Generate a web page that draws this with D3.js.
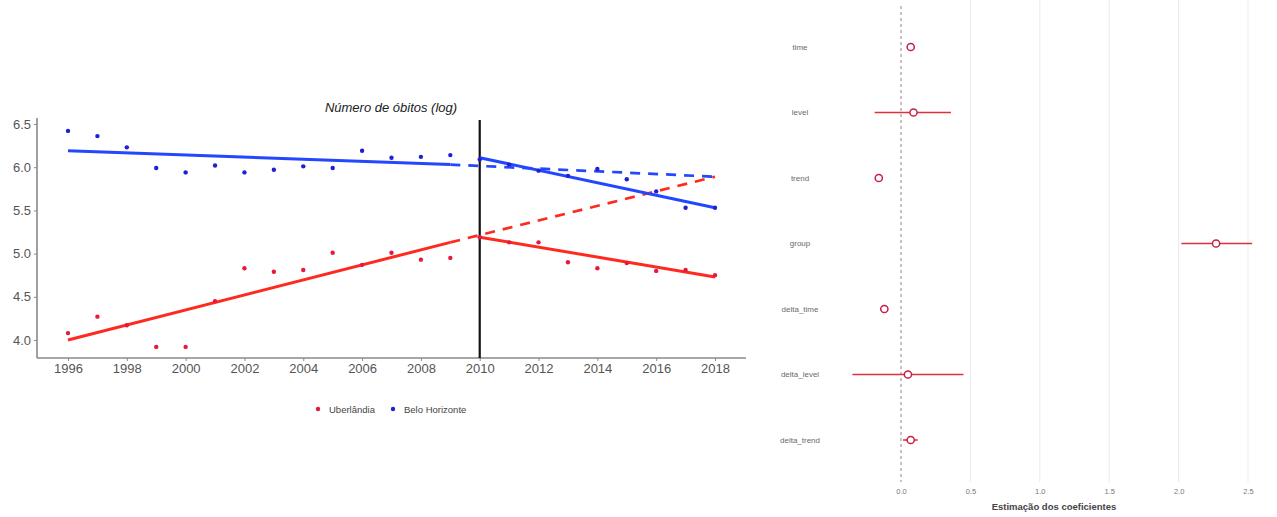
<!DOCTYPE html>
<html>
<head>
<meta charset="utf-8">
<script src="https://cdn.jsdelivr.net/npm/d3@7"></script>
<style>
  html, body { margin: 0; padding: 0; background: #fff; }
  svg { display: block; font-family: "Liberation Sans", Arial, sans-serif; }
</style>
</head>
<body>
<svg id="chart" width="1277" height="517"></svg>
<script>
// ---- Series: log number of deaths per year ----
const years = d3.range(1996, 2019);
const uberlandia = [4.08, 4.27, 4.17, 3.92, 3.92, 4.45, 4.83, 4.79, 4.81, 5.01, 4.87, 5.01, 4.93, 4.95,
                    5.19, 5.13, 5.13, 4.90, 4.83, 4.89, 4.80, 4.81, 4.75];
const beloHorizonte = [6.42, 6.36, 6.23, 5.99, 5.94, 6.02, 5.94, 5.97, 6.01, 5.99, 6.19, 6.11, 6.12, 6.14,
                       6.09, 6.03, 5.96, 5.90, 5.98, 5.86, 5.72, 5.53, 5.53];

// Fitted segments: [startYear, startValue, endYear, endValue]
const fitUberPre = [1996, 4.00, 2009, 5.13];
const fitUberCf = [2009, 5.13, 2018, 5.89];
const fitUberPost = [2010, 5.19, 2018, 4.73];
const fitBeloPre = [1996, 6.19, 2009, 6.03];
const fitBeloCf = [2009, 6.03, 2018, 5.89];
const fitBeloPost = [2010, 6.11, 2018, 5.53];

const interventionYear = 2010;
const yTicks = [4.0, 4.5, 5.0, 5.5, 6.0, 6.5];
const xTicks = d3.range(1996, 2019, 2);
const legendLabels = ["Uberlândia", "Belo Horizonte"];

// ---- Coefficient estimates ----
const coefNames = ["time", "level", "trend", "group", "delta_time", "delta_level", "delta_trend"];
const coefEst = [0.07, 0.09, -0.16, 2.27, -0.12, 0.05, 0.07];
const coefLow = [0.06, -0.19, -0.17, 2.02, -0.13, -0.35, 0.015];
const coefHigh = [0.08, 0.36, -0.15, 2.53, -0.11, 0.45, 0.12];
const coefTicks = [0.0, 0.5, 1.0, 1.5, 2.0, 2.5];

const RED = "#ff2a1f", BLUE = "#2346ff";
const RED_PT = "#e8173d", BLUE_PT = "#1f1fd6";
const svg = d3.select("#chart");

// ================= Left panel =================
const x = d3.scaleLinear().domain([1996, 2018]).range([68, 715]);
const y = d3.scaleLinear().domain([4.0, 6.5]).range([340, 124]);
const L = svg.append("g");

// axes lines
L.append("line").attr("x1", 37).attr("x2", 37).attr("y1", 118).attr("y2", 358)
  .attr("stroke", "#8a8a8a").attr("stroke-width", 1.6);
L.append("line").attr("x1", 37).attr("x2", 746).attr("y1", 358).attr("y2", 358)
  .attr("stroke", "#8a8a8a").attr("stroke-width", 1.6);

const yAxis = d3.axisLeft(y).tickValues(yTicks).tickFormat(d3.format(".1f")).tickSize(3).tickPadding(3);
const gy = L.append("g").attr("transform", "translate(37,0)").call(yAxis);
gy.select(".domain").remove();
gy.selectAll("line").attr("stroke", "#8a8a8a");
gy.selectAll("text").attr("fill", "#555").style("font-size", "13px");

const xAxis = d3.axisBottom(x).tickValues(xTicks).tickFormat(d3.format("d")).tickSize(3).tickPadding(3);
const gx = L.append("g").attr("transform", "translate(0,358)").call(xAxis);
gx.select(".domain").remove();
gx.selectAll("line").attr("stroke", "#8a8a8a");
gx.selectAll("text").attr("fill", "#555").style("font-size", "13px");

// title
L.append("text").attr("x", 391).attr("y", 112).attr("text-anchor", "middle")
  .attr("fill", "#222").style("font-size", "13px").style("font-style", "italic")
  .text("Número de óbitos (log)");

// intervention line
L.append("line").attr("x1", x(interventionYear)).attr("x2", x(interventionYear))
  .attr("y1", 120).attr("y2", 358).attr("stroke", "#111").attr("stroke-width", 2.2);

function seg(s, color, dashed) {
  L.append("line")
    .attr("x1", x(s[0])).attr("y1", y(s[1])).attr("x2", x(s[2])).attr("y2", y(s[3]))
    .attr("stroke", color).attr("stroke-width", dashed ? 2.7 : 3)
    .attr("stroke-dasharray", dashed ? "10,8" : null);
}
seg(fitUberPre, RED, false);
seg(fitUberCf, RED, true);
seg(fitUberPost, RED, false);
seg(fitBeloPre, BLUE, false);
seg(fitBeloCf, BLUE, true);
seg(fitBeloPost, BLUE, false);

function pts(vals, color) {
  L.append("g").selectAll("circle").data(vals).join("circle")
    .attr("cx", (d, i) => x(years[i])).attr("cy", d => y(d)).attr("r", 2.2).attr("fill", color);
}
pts(uberlandia, RED_PT);
pts(beloHorizonte, BLUE_PT);

// legend
const lg = L.append("g").attr("transform", "translate(318,409)");
[[0, RED_PT, legendLabels[0]], [75, BLUE_PT, legendLabels[1]]].forEach(([dx, c, t]) => {
  lg.append("circle").attr("cx", dx).attr("cy", 0).attr("r", 2.2).attr("fill", c);
  lg.append("text").attr("x", dx + 11).attr("y", 3.5).attr("fill", "#444")
    .style("font-size", "9.5px").text(t);
});

// ================= Right panel =================
const cx = d3.scaleLinear().domain([0, 2.5]).range([901, 1248]);
const cy = d3.scalePoint().domain(coefNames).range([47, 440]);
const R = svg.append("g");

R.selectAll(".grid").data(coefTicks.slice(1)).join("line")
  .attr("x1", d => cx(d)).attr("x2", d => cx(d)).attr("y1", 0).attr("y2", 482)
  .attr("stroke", "#ebebeb").attr("stroke-width", 1);

R.append("line").attr("x1", cx(0)).attr("x2", cx(0)).attr("y1", 6).attr("y2", 482)
  .attr("stroke", "#a08c92").attr("stroke-width", 1.1).attr("stroke-dasharray", "3,3");

const cAxis = d3.axisBottom(cx).tickValues(coefTicks).tickFormat(d3.format(".1f")).tickSize(0).tickPadding(0);
const gc = R.append("g").attr("transform", "translate(0,489)").call(cAxis);
gc.select(".domain").remove();
gc.selectAll("text").attr("fill", "#777").style("font-size", "7.5px");

R.append("text").attr("x", 1054).attr("y", 510).attr("text-anchor", "middle")
  .attr("fill", "#444").style("font-size", "9.5px").style("font-weight", "bold")
  .text("Estimação dos coeficientes");

R.selectAll(".lab").data(coefNames).join("text")
  .attr("x", 800).attr("y", d => cy(d) + 2.8).attr("text-anchor", "middle")
  .attr("fill", "#6a6a6a").style("font-size", "8px").text(d => d);

R.selectAll(".ci").data(coefNames).join("line")
  .attr("x1", (d, i) => cx(coefLow[i])).attr("x2", (d, i) => cx(coefHigh[i]))
  .attr("y1", d => cy(d)).attr("y2", d => cy(d))
  .attr("stroke", "#e0303a").attr("stroke-width", 1.6);

R.selectAll(".est").data(coefNames).join("circle")
  .attr("cx", (d, i) => cx(coefEst[i])).attr("cy", d => cy(d)).attr("r", 3.6)
  .attr("fill", "#fff").attr("stroke", "#c41e4a").attr("stroke-width", 1.5);
</script>
</body>
</html>
